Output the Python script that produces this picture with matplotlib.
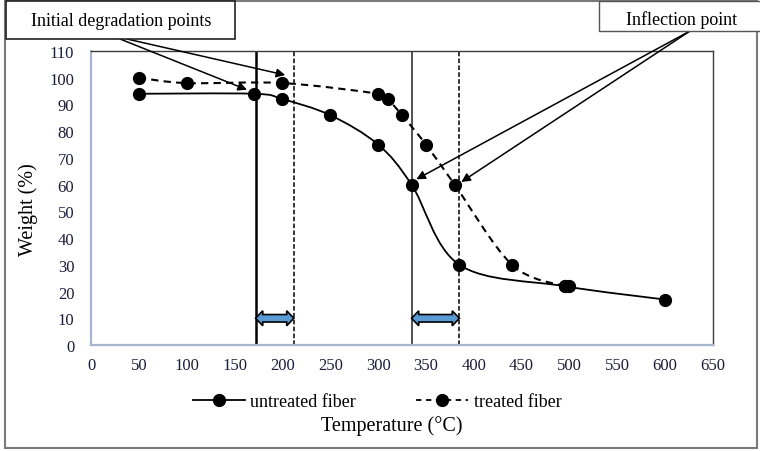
import numpy as np
import matplotlib
matplotlib.use("Agg")
import matplotlib.pyplot as plt
from matplotlib.path import Path
from matplotlib.patches import PathPatch, Rectangle, Polygon
from matplotlib.lines import Line2D

plt.rcParams['font.family'] = ['Liberation Serif', 'DejaVu Serif']

# data
untreated_t = [50, 170, 200, 250, 300, 335, 385, 495, 600]
untreated_w = [94, 94, 92, 86, 75, 60, 30, 22, 17]
treated_t = [50, 100, 200, 300, 310, 325, 350, 380, 440, 495, 500]
treated_w = [100, 98, 98, 94, 92, 86, 75, 60, 30, 22, 22]

# degradation onset / inflection markers (deg C)
onset_untreated = 172
onset_treated = 212
inflect_untreated = 335
inflect_treated = 385

W, H = 760, 452


def fx(px):
    return px / W


def fy(py):
    # py measured from the top of the image
    return 1 - py / H


def smooth_path(xs, ys):
    # Excel-style smoothed line: cubic bezier through each point
    pts = np.column_stack([xs, ys]).astype(float)
    verts = [pts[0]]
    codes = [Path.MOVETO]
    n = len(pts)
    for i in range(n - 1):
        p0 = pts[i - 1] if i > 0 else pts[i]
        p1 = pts[i]
        p2 = pts[i + 1]
        p3 = pts[i + 2] if i + 2 < n else pts[i + 1]
        c1 = p1 + (p2 - p0) / 6.0
        c2 = p2 - (p3 - p1) / 6.0
        verts += [c1, c2, p2]
        codes += [Path.CURVE4] * 3
    return Path(verts, codes)


def double_arrow(ax, x0, x1, y):
    hl, hh, sh = 7.5, 2.8, 1.4
    verts = [(x0, y), (x0 + hl, y + hh), (x0 + hl, y + sh), (x1 - hl, y + sh),
             (x1 - hl, y + hh), (x1, y), (x1 - hl, y - hh), (x1 - hl, y - sh),
             (x0 + hl, y - sh), (x0 + hl, y - hh)]
    ax.add_patch(Polygon(verts, closed=True, fc='#5B9BD5', ec='black', lw=1.2, zorder=4))


fig = plt.figure(figsize=(7.6, 4.52), dpi=100)
ax = fig.add_axes([fx(91), fy(346), fx(713) - fx(91), fy(52) - fy(346)])

ax.add_patch(PathPatch(smooth_path(untreated_t, untreated_w), fc='none', ec='black', lw=1.3, zorder=3))
ax.add_patch(PathPatch(smooth_path(treated_t, treated_w), fc='none', ec='black', lw=1.5,
                       linestyle=(0, (3.5, 2.5)), zorder=3))
ax.plot(untreated_t, untreated_w, 'o', color='black', ms=8.5, zorder=5)
ax.plot(treated_t, treated_w, 'o', color='black', ms=8.5, zorder=5)

ax.axvline(onset_untreated, color='black', lw=1.8)
ax.axvline(onset_treated, color='black', lw=1.1, linestyle=(0, (3, 1.5)))
ax.axvline(inflect_untreated, color='#333333', lw=1.2)
ax.axvline(inflect_treated, color='black', lw=1.1, linestyle=(0, (3, 1.5)))

double_arrow(ax, onset_untreated, onset_treated, 10)
double_arrow(ax, inflect_untreated, inflect_treated, 10)

ax.set_xlim(0, 650)
ax.set_ylim(0, 110)
ax.set_xticks(np.arange(0, 651, 50))
ax.set_yticks(np.arange(0, 111, 10))
ax.tick_params(length=0, labelsize=12, colors='#1c1c3a', pad=9)
ax.tick_params(axis='y', pad=12)
for s in ['left', 'bottom']:
    ax.spines[s].set_color('#a9b6cf')
    ax.spines[s].set_linewidth(1.6)
for s in ['top', 'right']:
    ax.spines[s].set_color('#3a3a3a')
    ax.spines[s].set_linewidth(1.0)

fig.text(fx(28), fy(210), 'Weight (%)', rotation=90, ha='center', va='center', fontsize=14.5)
fig.text(fx(392), fy(426), 'Temperature (°C)', ha='center', va='center', fontsize=14.5)

handles = [Line2D([], [], color='black', lw=1.3, marker='o', ms=8.5),
           Line2D([], [], color='black', lw=1.3, marker='o', ms=8.5, linestyle=(0, (3, 2.5)))]
fig.legend(handles, ['untreated fiber', 'treated fiber'], loc='center', ncol=2,
           bbox_to_anchor=(fx(377), fy(403)), frameon=False, fontsize=13,
           handlelength=2.9, columnspacing=3.3, handletextpad=0.3, numpoints=1)

# outer frame and callout boxes
fig.patches.append(Rectangle((fx(5), fy(449)), fx(752), fy(2) - fy(449), transform=fig.transFigure,
                             fill=False, ec='#7a7a7a', lw=1.5))
fig.patches.append(Rectangle((fx(6), fy(40)), fx(229), fy(2) - fy(40), transform=fig.transFigure,
                             fc='white', ec='#222222', lw=1.2, zorder=6))
fig.patches.append(Rectangle((fx(599), fy(32)), fx(170), fy(2) - fy(32), transform=fig.transFigure,
                             fc='white', ec='#555555', lw=1.0, zorder=6))
fig.text(fx(121), fy(22), 'Initial degradation points', ha='center', va='center', fontsize=13, zorder=7)
fig.text(fx(682), fy(20), 'Inflection point', ha='center', va='center', fontsize=13, zorder=7)

arrow = dict(arrowstyle='-|>', color='black', lw=1.1, mutation_scale=13, shrinkA=0, shrinkB=0)
for tip, start in [((163, 95.5), (120, 40)), ((203, 101), (127, 40))]:
    ax.annotate('', xy=tip, xycoords='data', xytext=(fx(start[0]), fy(start[1])),
                textcoords='figure fraction', arrowprops=arrow, annotation_clip=False)
for tip in [(340, 62), (387, 61)]:
    ax.annotate('', xy=tip, xycoords='data', xytext=(fx(690), fy(32)),
                textcoords='figure fraction', arrowprops=arrow, annotation_clip=False)

fig.savefig('out.png', dpi=100)
